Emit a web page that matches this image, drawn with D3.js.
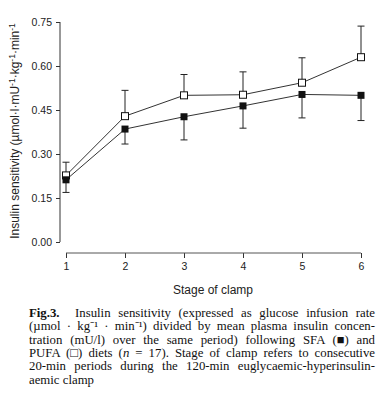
<!DOCTYPE html>
<html>
<head>
<meta charset="utf-8">
<script src="https://cdn.jsdelivr.net/npm/d3@7"></script>
<style>
  body { margin: 0; background: #fff; }
  svg { display: block; }
  .tick text { font-family: "Liberation Sans", Arial, sans-serif; font-size: 10.5px; fill: #222; }
  .cap { white-space: pre; }
</style>
</head>
<body>
<div id="chart"></div>
<script>
// Chart data
var stages = [1, 2, 3, 4, 5, 6];
var pufaMean = [0.227, 0.429, 0.500, 0.502, 0.543, 0.630];
var pufaUpper = [0.272, 0.517, 0.571, 0.580, 0.628, 0.736];
var sfaMean = [0.212, 0.385, 0.427, 0.464, 0.503, 0.500];
var sfaLower = [0.169, 0.334, 0.348, 0.388, 0.423, 0.414];
var yTicks = [0, 0.15, 0.30, 0.45, 0.60, 0.75];

var svgWidth = 376;
var svgHeight = 400;

var svg = d3.select("#chart")
    .append("svg")
    .attr("width", svgWidth)
    .attr("height", svgHeight);

svg.append("rect").attr("width", svgWidth).attr("height", svgHeight).attr("fill", "#fff");

// Scales
var xScale = d3.scaleLinear().domain([1, 6]).range([66, 361]);
var yScale = d3.scaleLinear().domain([0, 0.75]).range([242, 22]);

// Axes
var leftAxis = d3.axisLeft(yScale)
    .tickValues(yTicks)
    .tickSize(4)
    .tickPadding(4)
    .tickFormat(d3.format(".2f"));

var yAxisG = svg.append("g")
    .attr("transform", "translate(60,0)")
    .call(leftAxis);

var bottomAxis = d3.axisBottom(xScale)
    .tickValues(stages)
    .tickSize(5)
    .tickPadding(5)
    .tickFormat(d3.format("d"));

var xAxisG = svg.append("g")
    .attr("transform", "translate(0,253)")
    .call(bottomAxis);

[yAxisG, xAxisG].forEach(function(g) {
    g.select(".domain").remove();
    g.selectAll(".tick line").attr("stroke", "#333");
});

// axis lines (no outer ticks)
svg.append("line")
    .attr("x1", 60).attr("x2", 60)
    .attr("y1", yScale(0.75)).attr("y2", yScale(0))
    .attr("stroke", "#333");
svg.append("line")
    .attr("x1", xScale(1)).attr("x2", xScale(6))
    .attr("y1", 253).attr("y2", 253)
    .attr("stroke", "#555");

// Lines
var line = d3.line()
    .x(function(d) { return xScale(d[0]); })
    .y(function(d) { return yScale(d[1]); });

var pufaData = stages.map(function(s, i) { return [s, pufaMean[i], pufaUpper[i]]; });
var sfaData = stages.map(function(s, i) { return [s, sfaMean[i], sfaLower[i]]; });

svg.append("path").datum(pufaData).attr("d", line)
    .attr("fill", "none").attr("stroke", "#333").attr("stroke-width", 1);
svg.append("path").datum(sfaData).attr("d", line)
    .attr("fill", "none").attr("stroke", "#333").attr("stroke-width", 1);

// Error bars
function errorBars(data, cls) {
    var g = svg.append("g").attr("class", cls);
    g.selectAll("line.v").data(data).enter().append("line")
        .attr("x1", d => xScale(d[0])).attr("x2", d => xScale(d[0]))
        .attr("y1", d => yScale(d[1])).attr("y2", d => yScale(d[2]))
        .attr("stroke", "#222");
    g.selectAll("line.c").data(data).enter().append("line")
        .attr("x1", d => xScale(d[0]) - 3.5).attr("x2", d => xScale(d[0]) + 3.5)
        .attr("y1", d => yScale(d[2])).attr("y2", d => yScale(d[2]))
        .attr("stroke", "#222");
}
errorBars(pufaData, "pufa-err");
errorBars(sfaData, "sfa-err");

// Markers
var ms = 7;
svg.selectAll("rect.pufa").data(pufaData).enter().append("rect")
    .attr("class", "pufa")
    .attr("x", d => xScale(d[0]) - ms / 2)
    .attr("y", d => yScale(d[1]) - ms / 2)
    .attr("width", ms).attr("height", ms)
    .attr("fill", "#fff").attr("stroke", "#111").attr("stroke-width", 1);

svg.selectAll("rect.sfa").data(sfaData).enter().append("rect")
    .attr("class", "sfa")
    .attr("x", d => xScale(d[0]) - ms / 2)
    .attr("y", d => yScale(d[1]) - ms / 2)
    .attr("width", ms).attr("height", ms)
    .attr("fill", "#111");

// Axis labels
var yLab = svg.append("text")
    .attr("transform", "translate(19,131) rotate(-90)")
    .attr("text-anchor", "middle")
    .attr("font-family", "Liberation Sans, Arial, sans-serif")
    .attr("font-size", 12)
    .attr("fill", "#222");
yLab.append("tspan").text("Insulin sensitivity (µmol·l·mU");
yLab.append("tspan").attr("dy", -4).attr("font-size", 8.5).text("-1");
yLab.append("tspan").attr("dy", 4).text("·kg");
yLab.append("tspan").attr("dy", -4).attr("font-size", 8.5).text("-1");
yLab.append("tspan").attr("dy", 4).text("·min");
yLab.append("tspan").attr("dy", -4).attr("font-size", 8.5).text("-1");

svg.append("text")
    .attr("x", 213).attr("y", 294)
    .attr("text-anchor", "middle")
    .attr("font-family", "Liberation Sans, Arial, sans-serif")
    .attr("font-size", 12)
    .attr("fill", "#222")
    .text("Stage of clamp");

// Caption lines: [style, text] parts, justified with word-spacing
var capX = 29, capW = 346;
var caption = [
    [["b", "Fig.3."], ["", "  Insulin sensitivity (expressed as glucose infusion rate"]],
    [["", "(µmol · kg⁻¹ · min⁻¹) divided by mean plasma insulin concen-"]],
    [["", "tration (mU/l) over the same period) following SFA (■) and"]],
    [["", "PUFA (□) diets ("], ["i", "n"], ["", " = 17). Stage of clamp refers to consecutive"]],
    [["", "20-min periods during the 120-min euglycaemic-hyperinsulin-"]],
    [["", "aemic clamp"]]
];
var capY = [317, 330.3, 343.6, 356.9, 370.2, 383.5];

caption.forEach(function(parts, i) {
    var t = svg.append("text")
        .attr("class", "cap")
        .attr("x", capX).attr("y", capY[i])
        .attr("font-family", "Liberation Serif, Times New Roman, serif")
        .attr("font-size", 12.8)
        .attr("fill", "#111");
    parts.forEach(function(p) {
        var s = t.append("tspan").text(p[1]);
        if (p[0] === "b") s.attr("font-weight", "bold");
        if (p[0] === "i") s.attr("font-style", "italic");
    });
    if (i < caption.length - 1) {
        var w = t.node().getComputedTextLength();
        var nSpaces = parts.map(p => p[1]).join("").split(" ").length - 1;
        t.attr("word-spacing", (capW - w) / nSpaces);
    }
});
</script>
</body>
</html>
